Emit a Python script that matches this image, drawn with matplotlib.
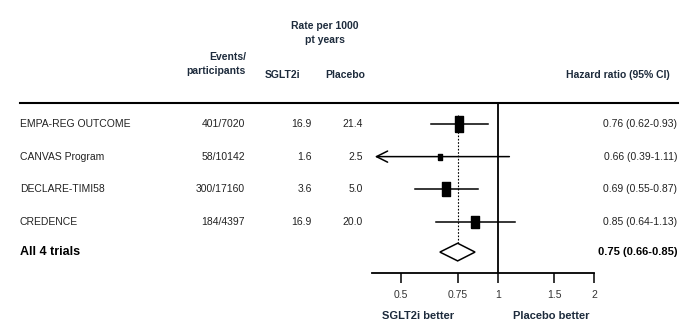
import matplotlib.pyplot as plt
import matplotlib.transforms as mtransforms
from matplotlib.patches import Polygon

plt.rcParams['font.family'] = ['Liberation Sans', 'DejaVu Sans']

# Trial data
trials = ['EMPA-REG OUTCOME', 'CANVAS Program', 'DECLARE-TIMI58', 'CREDENCE']
events = ['401/7020', '58/10142', '300/17160', '184/4397']
rate_sglt2i = ['16.9', '1.6', '3.6', '16.9']
rate_placebo = ['21.4', '2.5', '5.0', '20.0']
hr = [0.76, 0.66, 0.69, 0.85]
ci_low = [0.62, 0.39, 0.55, 0.64]
ci_high = [0.93, 1.11, 0.87, 1.13]
box_size = [11, 4.5, 10.5, 9]  # box height in points (study weight)

pooled_label = 'All 4 trials'
pooled_hr = 0.75
pooled_low = 0.66
pooled_high = 0.85

xticks = [0.5, 0.75, 1, 1.5, 2]
xticklabels = ['0.5', '0.75', '1', '1.5', '2']

navy = '#1d2b3c'
txt = '#222222'

fig = plt.figure(figsize=(7, 3.26), dpi=100)
bg = fig.add_axes([0, 0, 1, 1])
bg.set_xlim(0, 700)
bg.set_ylim(326, 0)
bg.axis('off')

ax = fig.add_axes([372 / 700, 1 - 273 / 326, 222 / 700, 170 / 326])
ax.set_xscale('log')
ax.set_xlim(0.405, 2.0)
ax.set_ylim(4.56, -0.64)
rowtr = mtransforms.blended_transform_factory(bg.transData, ax.transData)

# Headers
bg.text(246, 57, 'Events/', ha='right', va='center', fontsize=7.5, fontweight='bold', color=navy)
bg.text(246, 71, 'participants', ha='right', va='center', fontsize=7.5, fontweight='bold', color=navy)
bg.text(325, 26, 'Rate per 1000', ha='center', va='center', fontsize=7.5, fontweight='bold', color=navy)
bg.text(325, 40, 'pt years', ha='center', va='center', fontsize=7.5, fontweight='bold', color=navy)
bg.text(283, 75, 'SGLT2i', ha='center', va='center', fontsize=7.5, fontweight='bold', color=navy)
bg.text(345, 75, 'Placebo', ha='center', va='center', fontsize=7.5, fontweight='bold', color=navy)
bg.text(670, 75, 'Hazard ratio (95% CI)', ha='right', va='center', fontsize=7.5, fontweight='bold', color=navy)
bg.plot([20, 678], [103, 103], color='black', lw=1.5)

# Rows
marker_path = [(-0.28, -0.5), (0.28, -0.5), (0.28, 0.5), (-0.28, 0.5), (-0.28, -0.5)]
for i, name in enumerate(trials):
    bg.text(20, i, name, transform=rowtr, ha='left', va='center', fontsize=7.5, color=txt)
    bg.text(245, i, events[i], transform=rowtr, ha='right', va='center', fontsize=7.5, color=txt)
    bg.text(312, i, rate_sglt2i[i], transform=rowtr, ha='right', va='center', fontsize=7.5, color=txt)
    bg.text(363, i, rate_placebo[i], transform=rowtr, ha='right', va='center', fontsize=7.5, color=txt)
    bg.text(677, i, '{:.2f} ({:.2f}-{:.2f})'.format(hr[i], ci_low[i], ci_high[i]),
            transform=rowtr, ha='right', va='center', fontsize=7.5, color=txt)

    lo = ci_low[i]
    if lo < ax.get_xlim()[0]:
        # CI runs off the left edge: draw an arrow
        ax.annotate('', xy=(ax.get_xlim()[0], i), xytext=(ci_high[i], i),
                    arrowprops=dict(arrowstyle='->', lw=1.1, color='black', mutation_scale=20))
    else:
        ax.plot([lo, ci_high[i]], [i, i], color='black', lw=1.1)
    ax.plot(hr[i], i, marker=marker_path, markersize=box_size[i], color='black', zorder=3)

# Pooled estimate
py = 3.92
bg.text(20, py, pooled_label, transform=rowtr, ha='left', va='center', fontsize=9,
        fontweight='bold', color='black')
bg.text(677, py, '{:.2f} ({:.2f}-{:.2f})'.format(pooled_hr, pooled_low, pooled_high),
        transform=rowtr, ha='right', va='center', fontsize=8, fontweight='bold', color='black')
dh = 0.27
ax.add_patch(Polygon([(pooled_low, py), (pooled_hr, py - dh), (pooled_high, py), (pooled_hr, py + dh)],
                     closed=True, facecolor='white', edgecolor='black', lw=1.1, zorder=3))

# Reference lines
ax.plot([1, 1], [ax.get_ylim()[1], ax.get_ylim()[0]], color='black', lw=1.3)
ax.plot([pooled_hr, pooled_hr], [-0.28, py - dh], color='black', lw=0.8, ls=(0, (1.5, 1.5)))

# Axis
for s in ['top', 'right', 'left']:
    ax.spines[s].set_visible(False)
ax.spines['bottom'].set_linewidth(1.3)
ax.set_yticks([])
ax.set_xticks(xticks)
ax.set_xticklabels(xticklabels)
ax.minorticks_off()
ax.tick_params(axis='x', direction='out', length=7, width=1.1, pad=5, labelsize=7.5, labelcolor='#333333')
ax.patch.set_visible(False)

bg.text(418, 316, 'SGLT2i better', ha='center', va='center', fontsize=8, fontweight='bold', color=navy)
bg.text(551, 316, 'Placebo better', ha='center', va='center', fontsize=8, fontweight='bold', color=navy)

fig.savefig('out.png', dpi=100)
